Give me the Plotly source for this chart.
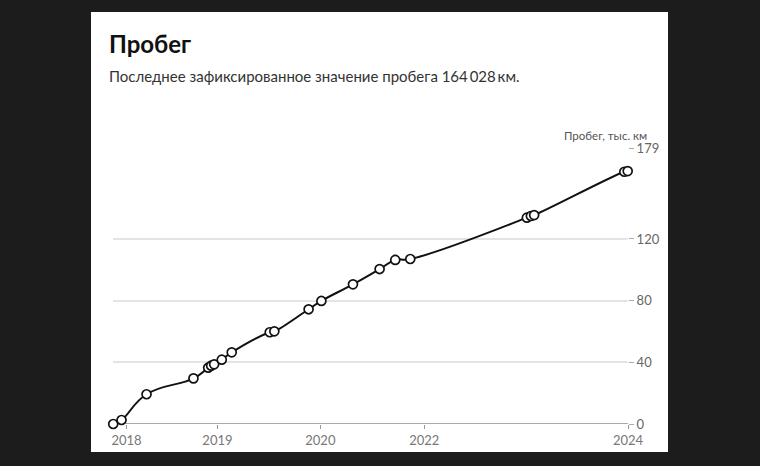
import plotly.graph_objects as go

# Decimal positions on the time axis
dates = [2017.987, 2018.068, 2018.311, 2018.767, 2018.910, 2018.939, 2018.968,
         2019.042, 2019.139, 2019.508, 2019.553, 2019.886, 2020.010, 2020.317,
         2020.576, 2020.728, 2020.874, 2022.007, 2022.046, 2022.078, 2022.954,
         2022.987]
mileage = [0.0, 2.6, 19.3, 29.6, 36.5, 37.8, 38.7, 41.7, 46.5, 59.5, 60.1,
           74.4, 79.8, 90.6, 100.5, 106.4, 107.0, 133.8, 134.9, 135.5, 163.6,
           164.028]

x_tick_vals = [2018.117, 2019.0, 2020.0, 2021.01, 2022.99]
x_tick_text = ["2018", "2019", "2020", "2022", "2024"]
y_tick_vals = [0, 40, 80, 120, 179]
y_tick_text = ["0", "40", "80", "120", "179"]

W, H = 760, 466
L, R, T, B = 113, 132, 148, 42

def px_x(p):
    return (p - L) / (W - L - R)

def px_y(p):
    return (H - B - p) / (H - T - B)

fig = go.Figure()
fig.add_trace(go.Scatter(
    x=dates, y=mileage, mode="lines+markers",
    line=dict(color="#111111", width=2, shape="spline", smoothing=1.3),
    marker=dict(size=9, color="white", line=dict(color="#111111", width=1.7)),
    cliponaxis=False, hoverinfo="skip", showlegend=False,
))

fig.update_layout(
    width=W, height=H,
    margin=dict(l=L, r=R, t=T, b=B),
    paper_bgcolor="#1c1c1c",
    plot_bgcolor="white",
    font=dict(family="Lato", color="#666666", size=13),
    xaxis=dict(range=[2017.985, 2022.99], tickvals=x_tick_vals, ticktext=x_tick_text,
               showgrid=False, zeroline=False, showline=False,
               ticks="outside", ticklen=4, tickcolor="#999999",
               tickfont=dict(size=13, color="#777777")),
    yaxis=dict(range=[0, 179], side="right", tickvals=y_tick_vals, ticktext=y_tick_text,
               showgrid=True, gridcolor="#e4e4e4", gridwidth=1.5, zeroline=False,
               ticks="outside", ticklen=5, tickcolor="#aaaaaa",
               tickfont=dict(size=13, color="#666666")),
    shapes=[
        dict(type="rect", xref="paper", yref="paper",
             x0=px_x(91), x1=px_x(668), y0=px_y(452), y1=px_y(12),
             fillcolor="white", line=dict(width=0), layer="below"),
        dict(type="line", xref="paper", yref="y", x0=0, x1=1, y0=0, y1=0,
             line=dict(color="#aaaaaa", width=2), layer="below"),
    ],
    annotations=[
        dict(text="<b>Пробег</b>", xref="paper", yref="paper",
             x=px_x(107), y=px_y(27),
             xanchor="left", yanchor="top", showarrow=False,
             font=dict(size=24, color="#111111", family="Lato")),
        dict(text="Последнее зафиксированное значение пробега 164\u2009028\u2009км.",
             xref="paper", yref="paper",
             x=px_x(107), y=px_y(65),
             xanchor="left", yanchor="top", showarrow=False,
             font=dict(size=15, color="#333333", family="Lato")),
        dict(text="Пробег, тыс. км", xref="paper", yref="paper",
             x=px_x(649), y=px_y(127),
             xanchor="right", yanchor="top", showarrow=False,
             font=dict(size=11.5, color="#555555", family="Lato")),
    ],
)

fig.write_html("out.html")
